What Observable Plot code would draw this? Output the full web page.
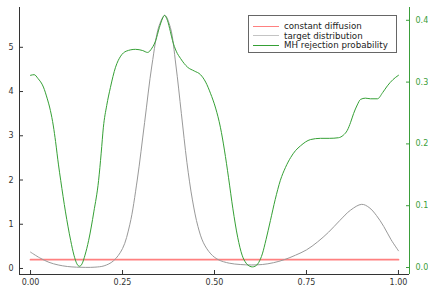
<!DOCTYPE html>
<html>
<head>
<meta charset="utf-8">
<script src="https://cdn.jsdelivr.net/npm/d3@7"></script>
<script src="https://cdn.jsdelivr.net/npm/@observablehq/plot@0.6"></script>
<style>
  html, body { margin: 0; padding: 0; background: #fff; }
  #wrap { position: relative; width: 428px; height: 287px; overflow: hidden; font-family: "DejaVu Sans", sans-serif; }
  #legend { position: absolute; left: 248px; top: 15px; width: 149px; height: 38px; border: 1px solid #666; background: #fff; box-sizing: border-box; font-size: 8.7px; color: #222; }
  .row { position: absolute; left: 4px; height: 10px; display: flex; align-items: center; }
  .sw { width: 26px; height: 1px; margin-right: 5px; }
</style>
</head>
<body>
<div id="wrap"></div>
<script>
// ---- data ----
const seriesNames = ["constant diffusion", "target distribution", "MH rejection probability"];
const seriesColors = ["#ff8080", "#999999", "#35a035"];
const legendColors = ["#ff8080", "#c4c4c4", "#35a035"];

const diffusionX = [0, 1];
const diffusionY = [0.2, 0.2];

const targetX = [0, 0.025, 0.05, 0.075, 0.1, 0.125, 0.15, 0.175, 0.2, 0.225, 0.25, 0.27, 0.29, 0.31, 0.33, 0.35, 0.365, 0.38, 0.395, 0.41, 0.425, 0.44, 0.455, 0.47, 0.49, 0.51, 0.54, 0.57, 0.6, 0.63, 0.66, 0.69, 0.72, 0.75, 0.78, 0.81, 0.84, 0.87, 0.9, 0.92, 0.94, 0.96, 0.98, 1.0];
const targetY = [0.37, 0.24, 0.14, 0.08, 0.045, 0.03, 0.025, 0.03, 0.06, 0.17, 0.45, 1.0, 2.0, 3.3, 4.6, 5.5, 5.72, 5.45, 4.6, 3.5, 2.4, 1.55, 0.95, 0.58, 0.33, 0.2, 0.12, 0.09, 0.08, 0.09, 0.13, 0.2, 0.3, 0.42, 0.6, 0.82, 1.08, 1.32, 1.45, 1.38, 1.2, 0.95, 0.65, 0.4];

const rejectX = [0.000, 0.010, 0.020, 0.035, 0.045, 0.054, 0.062, 0.068, 0.076, 0.082, 0.095, 0.109, 0.118, 0.126, 0.133, 0.140, 0.148, 0.158, 0.172, 0.185, 0.192, 0.198, 0.207, 0.217, 0.231, 0.245, 0.260, 0.285, 0.305, 0.318, 0.330, 0.340, 0.350, 0.358, 0.364, 0.372, 0.380, 0.386, 0.396, 0.408, 0.427, 0.445, 0.462, 0.476, 0.489, 0.503, 0.516, 0.527, 0.538, 0.550, 0.563, 0.575, 0.586, 0.596, 0.603, 0.610, 0.620, 0.630, 0.640, 0.652, 0.665, 0.679, 0.693, 0.707, 0.720, 0.734, 0.761, 0.788, 0.812, 0.837, 0.850, 0.861, 0.870, 0.878, 0.888, 0.897, 0.910, 0.924, 0.943, 0.957, 0.970, 0.985, 1.000];
const rejectY = [0.311, 0.312, 0.306, 0.292, 0.274, 0.254, 0.229, 0.204, 0.166, 0.141, 0.090, 0.044, 0.020, 0.006, 0.002, 0.006, 0.020, 0.044, 0.090, 0.141, 0.185, 0.227, 0.262, 0.291, 0.324, 0.342, 0.350, 0.353, 0.351, 0.348, 0.355, 0.367, 0.388, 0.402, 0.408, 0.400, 0.382, 0.367, 0.350, 0.338, 0.324, 0.318, 0.312, 0.300, 0.282, 0.258, 0.227, 0.190, 0.146, 0.095, 0.049, 0.020, 0.007, 0.002, 0.001, 0.002, 0.008, 0.022, 0.045, 0.076, 0.110, 0.141, 0.162, 0.178, 0.189, 0.197, 0.207, 0.209, 0.209, 0.210, 0.214, 0.222, 0.235, 0.249, 0.263, 0.272, 0.274, 0.273, 0.273, 0.283, 0.294, 0.304, 0.311];

const xTicks = [0, 0.25, 0.5, 0.75, 1.0];
const leftTicks = [0, 1, 2, 3, 4, 5];
const rightTicks = [0, 0.1, 0.2, 0.3, 0.4];

const xDomain = [-0.03, 1.03];
const leftDomain = [-0.136, 5.9];
const rightDomain = [-0.0113, 0.4207];

// map right-axis values into left-axis units
const toLeft = d3.scaleLinear().domain(rightDomain).range(leftDomain);

const diffusion = diffusionX.map((x, i) => ({x, y: diffusionY[i]}));
const target = targetX.map((x, i) => ({x, y: targetY[i]}));
const reject = rejectX.map((x, i) => ({x, y: toLeft(rejectY[i])}));

const axisColor = "#333";
const green = "#3a9e3a";
const blank = () => "";

const chart = Plot.plot({
  width: 428,
  height: 287,
  marginLeft: 19,
  marginRight: 19,
  marginTop: 7,
  marginBottom: 13,
  style: {fontFamily: "DejaVu Sans, sans-serif", fontSize: "8px", background: "#fff"},
  x: {domain: xDomain},
  y: {domain: leftDomain},
  marks: [
    Plot.line(diffusion, {x: "x", y: "y", stroke: seriesColors[0], strokeWidth: 1.8}),
    Plot.line(target, {x: "x", y: "y", stroke: seriesColors[1], strokeWidth: 1, curve: "catmull-rom"}),
    Plot.line(reject, {x: "x", y: "y", stroke: seriesColors[2], strokeWidth: 1, curve: "monotone-x"}),
    // frame lines
    Plot.ruleX([xDomain[0]], {stroke: axisColor, strokeWidth: 1}),
    Plot.ruleY([leftDomain[0]], {stroke: axisColor, strokeWidth: 1}),
    Plot.ruleX([xDomain[1]], {stroke: green, strokeWidth: 1}),
    // left axis
    Plot.axisY({ticks: leftTicks, anchor: "left", tickSize: 4, dx: 4, stroke: axisColor, tickFormat: blank, label: null}),
    Plot.axisY({ticks: leftTicks, anchor: "left", tickSize: 0, tickPadding: 6, color: "#333", tickFormat: d3.format("d"), label: null}),
    // bottom axis
    Plot.axisX({ticks: xTicks, anchor: "bottom", tickSize: 4, dy: -4, stroke: axisColor, tickFormat: blank, label: null}),
    Plot.axisX({ticks: xTicks, anchor: "bottom", tickSize: 0, tickPadding: 5, color: "#333", tickFormat: d3.format(".2f"), label: null}),
    // right axis (green)
    Plot.axisY(rightTicks.map(toLeft), {anchor: "right", tickSize: 4, dx: -4, stroke: green, tickFormat: blank, label: null}),
    Plot.axisY(rightTicks.map(toLeft), {anchor: "right", tickSize: 0, tickPadding: 6, color: green, label: null,
      tickFormat: d => d3.format(".1f")(Math.abs(toLeft.invert(d)) < 1e-9 ? 0 : toLeft.invert(d))})
  ]
});

const wrap = document.getElementById("wrap");
wrap.appendChild(chart);

// legend
const legend = document.createElement("div");
legend.id = "legend";
seriesNames.forEach((name, i) => {
  const row = document.createElement("div");
  row.className = "row";
  row.style.top = (5 + i * 9.7) + "px";
  const sw = document.createElement("div");
  sw.className = "sw";
  sw.style.backgroundColor = legendColors[i];
  const t = document.createElement("span");
  t.textContent = name;
  row.appendChild(sw);
  row.appendChild(t);
  legend.appendChild(row);
});
wrap.appendChild(legend);
</script>
</body>
</html>
